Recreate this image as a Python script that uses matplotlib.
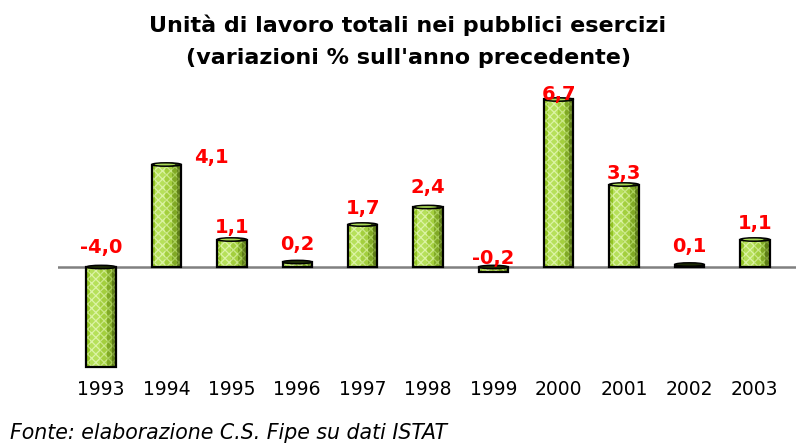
import numpy as np
import matplotlib
matplotlib.use('Agg')
import matplotlib.pyplot as plt
from matplotlib.patches import Ellipse

plt.rcParams['font.family'] = ['DejaVu Sans']
plt.rcParams['hatch.linewidth'] = 0.9

# Data
years = ['1993', '1994', '1995', '1996', '1997', '1998', '1999', '2000', '2001', '2002', '2003']
values = [-4.0, 4.1, 1.1, 0.2, 1.7, 2.4, -0.2, 6.7, 3.3, 0.1, 1.1]
labels = ['-4,0', '4,1', '1,1', '0,2', '1,7', '2,4', '-0,2', '6,7', '3,3', '0,1', '1,1']
# label offsets in points (Excel put a few of them oddly)
label_dx = [0, 32, 0, 0, 0, 0, 0, 0, 0, 0, 0]
label_dy = [7, -2, 2, 6, 5, 7, -1, -3, 1, 6, 5]

W, H = 798, 446
fig = plt.figure(figsize=(W / 100, H / 100), dpi=100)
ax = fig.add_axes([58 / W, (H - 372) / H, (796 - 58) / W, 282 / H])

x = np.arange(len(years))
bw = 0.45

# cylinder-ish bars: vertical strips, light on the left, dark on the right
strips = [('#93c424', '#c3e67a', 0.12), ('#b6e05a', '#dcf3a6', 0.34),
          ('#a3cf3e', '#cbe88a', 0.24), ('#80a925', '#a9cf5c', 0.16),
          ('#5d7d17', '#7f9f38', 0.14)]
for xi, v in zip(x, values):
    left = xi - bw / 2
    for fc, hc, frac in strips:
        ax.bar(left, v, width=bw * frac, align='edge', color=fc, edgecolor=hc,
               hatch='xxxx', linewidth=0, zorder=2)
        left += bw * frac
    ax.bar(xi, v, width=bw, fill=False, edgecolor='black', linewidth=1.6, zorder=3)
    top = max(v, 0)
    ax.add_patch(Ellipse((xi, top), bw, 0.14, facecolor='#1c2a05', edgecolor='black',
                         linewidth=1.0, zorder=4))
    if v > 0.5:
        ax.add_patch(Ellipse((xi - bw * 0.05, top), bw * 0.7, 0.07, facecolor='#a9d856',
                             edgecolor='none', zorder=5))

ax.axhline(0, color='#808080', linewidth=1.8, zorder=1)

for xi, v, lab, dx, dy in zip(x, values, labels, label_dx, label_dy):
    ax.annotate(lab, (xi, max(v, 0)), xytext=(dx, dy), textcoords='offset points',
                ha='center', va='bottom', color='#ff0000', fontsize=14,
                fontweight='bold', zorder=6)

ax.set_xlim(-0.66, len(years) - 0.37)
ax.set_ylim(-4.2, 7.08)
ax.set_xticks(x)
ax.set_xticklabels(years, fontsize=13.5)
ax.tick_params(axis='x', length=0, pad=6)
ax.set_yticks([])
for s in ax.spines.values():
    s.set_visible(False)

fig.text(408 / W, 1 - 25 / H, 'Unità di lavoro totali nei pubblici esercizi',
         ha='center', va='center', fontsize=16, fontweight='bold')
fig.text(408 / W, 1 - 58 / H, "(variazioni % sull'anno precedente)",
         ha='center', va='center', fontsize=16, fontweight='bold')
fig.text(10 / W, 1 - 433 / H, 'Fonte: elaborazione C.S. Fipe su dati ISTAT',
         ha='left', va='center', fontsize=14.8, style='italic')

fig.savefig('out.png', dpi=100)
